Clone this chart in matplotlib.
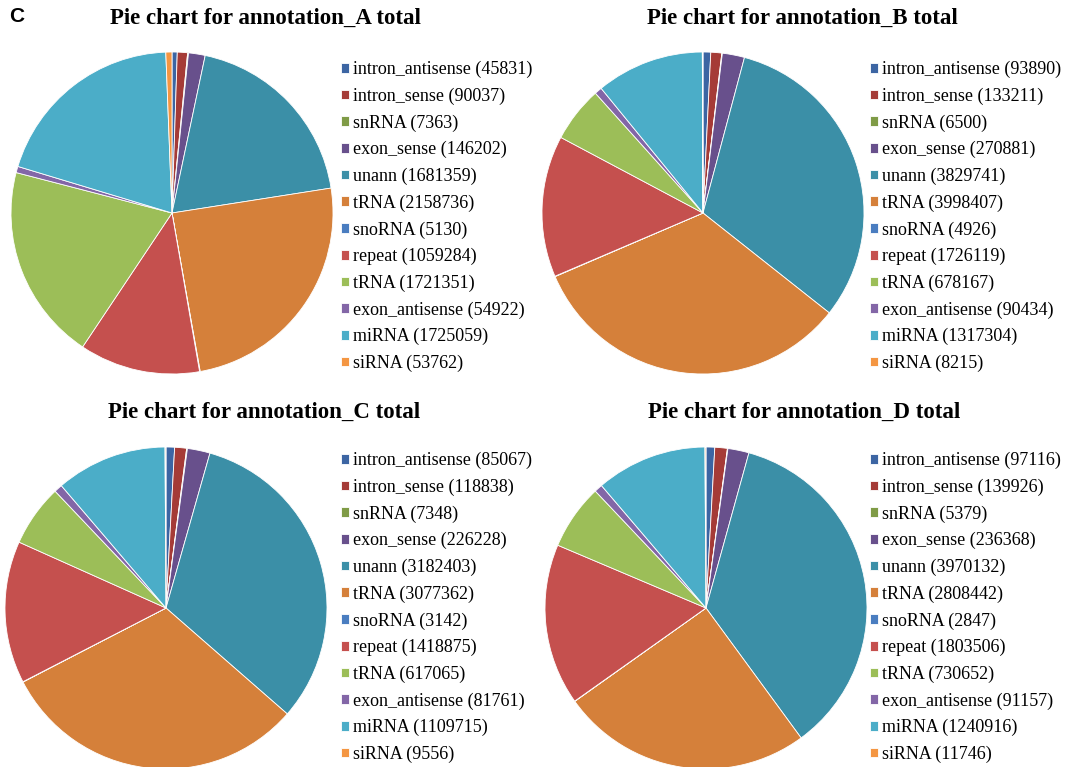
import matplotlib.pyplot as plt

# categories shared by all four annotation sets
names = ['intron_antisense', 'intron_sense', 'snRNA', 'exon_sense', 'unann', 'tRNA',
         'snoRNA', 'repeat', 'tRNA', 'exon_antisense', 'miRNA', 'siRNA']

counts_A = [45831, 90037, 7363, 146202, 1681359, 2158736, 5130, 1059284, 1721351, 54922, 1725059, 53762]
counts_B = [93890, 133211, 6500, 270881, 3829741, 3998407, 4926, 1726119, 678167, 90434, 1317304, 8215]
counts_C = [85067, 118838, 7348, 226228, 3182403, 3077362, 3142, 1418875, 617065, 81761, 1109715, 9556]
counts_D = [97116, 139926, 5379, 236368, 3970132, 2808442, 2847, 1803506, 730652, 91157, 1240916, 11746]

titles = ['Pie chart for annotation_A total', 'Pie chart for annotation_B total',
          'Pie chart for annotation_C total', 'Pie chart for annotation_D total']

#--office-style palette: darker shades first, then the base accents
colors = ['#3C65A3', '#A53B37', '#7F9B46', '#68508C', '#3B8FA7', '#D5803A',
          '#4A7DC0', '#C5504E', '#9CBE58', '#8366A7', '#4BADC8', '#F49642']

W, H = 1073, 767
fig = plt.figure(figsize=(W/100, H/100), dpi=100)

#--panel layout in pixels: pie centre, radius, legend anchor, title centre
panels = [
  dict(cx=172, cy=213, r=161, lx=341, ly=61, tx=266, ty=18),
  dict(cx=703, cy=213, r=161, lx=870, ly=61, tx=802, ty=18),
  dict(cx=166, cy=608, r=161, lx=341, ly=452, tx=264, ty=412),
  dict(cx=706, cy=608, r=161, lx=870, ly=452, tx=804, ty=412),
]

for counts, title, p in zip([counts_A, counts_B, counts_C, counts_D], titles, panels):
  r = p['r']
  ax = fig.add_axes([(p['cx']-r)/W, 1-(p['cy']+r)/H, 2*r/W, 2*r/H])
  wedges, _ = ax.pie(counts, colors=colors, startangle=90, counterclock=False, radius=1,
                     wedgeprops=dict(edgecolor='white', linewidth=0.6))
  ax.set_xlim(-1, 1) ; ax.set_ylim(-1, 1)
  for w in wedges:
    w.set_clip_on(False)
  labels = [n+' ('+str(v)+')' for n, v in zip(names, counts)]
  fig.legend(wedges, labels, loc='upper left', bbox_to_anchor=(p['lx']/W, 1-p['ly']/H),
             frameon=False, borderpad=0, borderaxespad=0, handlelength=0.45, handleheight=0.45,
             handletextpad=0.2, labelspacing=0.52,
             prop=dict(family='Liberation Serif', size=13))
  fig.text(p['tx']/W, 1-p['ty']/H, title, ha='center', va='center',
           family='Liberation Serif', weight='bold', fontsize=16.5)

fig.text(9/W, 1-16/H, 'C', ha='left', va='center', family='Liberation Sans', weight='bold', fontsize=15)

fig.savefig('out.png', dpi=100)
